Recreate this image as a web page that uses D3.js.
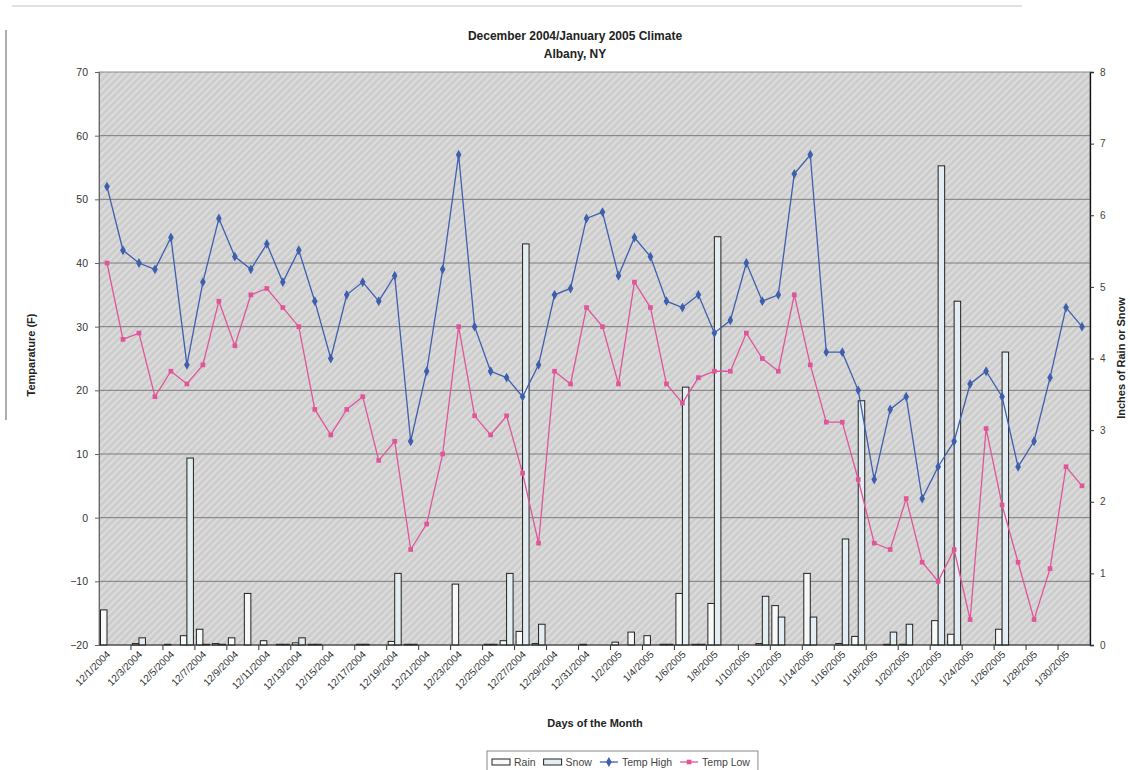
<!DOCTYPE html>
<html>
<head>
<meta charset="utf-8">
<script src="https://cdn.jsdelivr.net/npm/d3@7/dist/d3.min.js"></script>
<style>
  html, body { margin: 0; padding: 0; background: #fff; }
  svg { display: block; font-family: "Liberation Sans", Arial, sans-serif; }
</style>
</head>
<body>
<svg id="chart" width="1130" height="770"></svg>
<script>
// Daily climate record, Albany NY, 12/1/2004 – 1/31/2005
const days = [
  "12/1/2004","12/2/2004","12/3/2004","12/4/2004","12/5/2004","12/6/2004","12/7/2004","12/8/2004",
  "12/9/2004","12/10/2004","12/11/2004","12/12/2004","12/13/2004","12/14/2004","12/15/2004","12/16/2004",
  "12/17/2004","12/18/2004","12/19/2004","12/20/2004","12/21/2004","12/22/2004","12/23/2004","12/24/2004",
  "12/25/2004","12/26/2004","12/27/2004","12/28/2004","12/29/2004","12/30/2004","12/31/2004",
  "1/1/2005","1/2/2005","1/3/2005","1/4/2005","1/5/2005","1/6/2005","1/7/2005","1/8/2005",
  "1/9/2005","1/10/2005","1/11/2005","1/12/2005","1/13/2005","1/14/2005","1/15/2005","1/16/2005",
  "1/17/2005","1/18/2005","1/19/2005","1/20/2005","1/21/2005","1/22/2005","1/23/2005","1/24/2005",
  "1/25/2005","1/26/2005","1/27/2005","1/28/2005","1/29/2005","1/30/2005","1/31/2005"
];

// Temperatures, degrees F
const tempHigh = [
  52,42,40,39,44,24,37,47,41,39,43,37,42,34,25,35,37,34,38,12,23,39,57,30,23,22,19,24,35,36,47,
  48,38,44,41,34,33,35,29,31,40,34,35,54,57,26,26,20,6,17,19,3,8,12,21,23,19,8,12,22,33,30
];
const tempLow = [
  40,28,29,19,23,21,24,34,27,35,36,33,30,17,13,17,19,9,12,-5,-1,10,30,16,13,16,7,-4,23,21,33,
  30,21,37,33,21,18,22,23,23,29,25,23,35,24,15,15,6,-4,-5,3,-7,-10,-5,-16,14,2,-7,-16,-8,8,5
];

// Precipitation, inches
const rain = [
  0.49,0,0.02,0,0.01,0.13,0.22,0.02,0.10,0.72,0.06,0.01,0.03,0.01,0,0,0.01,0,0.05,0.01,0,0,0.85,0,0.01,0.06,0.19,0.02,0,0,0.01,
  0,0.04,0.18,0.13,0.01,0.72,0.01,0.58,0,0,0.02,0.55,0,1.0,0,0.02,0.12,0,0.01,0.01,0,0.34,0.15,0,0,0.22,0,0,0,0,0
];
const snow = [
  0,0,0.10,0,0,2.61,0.01,0.01,0,0,0,0.01,0.10,0.01,0,0,0.01,0,1.0,0.01,0,0,0,0,0.01,1.0,5.6,0.29,0,0,0,
  0,0,0,0,0.01,3.6,0.01,5.7,0,0,0.68,0.39,0,0.39,0,1.48,3.41,0,0.18,0.29,0,6.69,4.8,0,0,4.09,0,0,0,0,0
];

// Axis ticks
const tempTicks = [-20,-10,0,10,20,30,40,50,60,70];
const precipTicks = [0,1,2,3,4,5,6,7,8];

const svg = d3.select("#chart");
const plotL = 99, plotR = 1090, plotT = 72, plotB = 645;

const x = d3.scaleBand().domain(days).range([plotL, plotR]).padding(0);
const yT = d3.scaleLinear().domain([-20, 70]).range([plotB, plotT]);
const yP = d3.scaleLinear().domain([0, 8]).range([plotB, plotT]);
const sub = d3.scaleBand().domain(["Rain", "Snow"]).range([0, x.bandwidth()])
  .paddingInner(0).paddingOuter(0.23);

// Hatched grey plot background
const defs = svg.append("defs");
const pat = defs.append("pattern").attr("id", "hatch").attr("patternUnits", "userSpaceOnUse")
  .attr("width", 5).attr("height", 5).attr("patternTransform", "rotate(45)");
pat.append("rect").attr("width", 5).attr("height", 5).attr("fill", "#cdcdcd");
pat.append("rect").attr("width", 2).attr("height", 5).attr("fill", "#dcdcdc");

// faint outer frame of the chart area
svg.append("line").attr("x1", 12).attr("x2", 1022).attr("y1", 6).attr("y2", 6)
  .attr("stroke", "#c4c4c4").attr("stroke-width", 1.2);
svg.append("line").attr("x1", 6).attr("x2", 6).attr("y1", 30).attr("y2", 420)
  .attr("stroke", "#777").attr("stroke-width", 1.2);

svg.append("rect").attr("x", plotL).attr("y", plotT).attr("width", plotR - plotL).attr("height", plotB - plotT)
  .attr("fill", "url(#hatch)").attr("stroke", "#8a8a8a").attr("stroke-width", 1);

// horizontal gridlines on the temperature scale
svg.append("g").selectAll("line").data(tempTicks.slice(1, -1)).join("line")
  .attr("x1", plotL).attr("x2", plotR)
  .attr("y1", d => yT(d)).attr("y2", d => yT(d))
  .attr("stroke", "#7c7c7c").attr("stroke-width", 1);

// precipitation bars
const colors = { Rain: "#f7f9f9", Snow: "#e4eef2" };
const bars = svg.append("g");
days.forEach((d, i) => {
  [["Rain", rain[i]], ["Snow", snow[i]]].forEach(([k, v]) => {
    if (v <= 0) return;
    bars.append("rect")
      .attr("x", x(d) + sub(k))
      .attr("y", yP(v))
      .attr("width", sub.bandwidth())
      .attr("height", yP(0) - yP(v))
      .attr("fill", colors[k])
      .attr("stroke", "#222").attr("stroke-width", 1);
  });
});

// temperature lines
const cx = d => x(d) + x.bandwidth() / 2;
function series(values, color, shape) {
  const pts = days.map((d, i) => [cx(d), yT(values[i])]);
  svg.append("path").attr("d", d3.line()(pts)).attr("fill", "none")
    .attr("stroke", color).attr("stroke-width", 1.3);
  svg.append("g").selectAll("path").data(pts).join("path")
    .attr("transform", p => `translate(${p[0]},${p[1]})`)
    .attr("d", d3.symbol().type(shape).size(shape === d3.symbolDiamond ? 28 : 22)())
    .attr("fill", color);
}
series(tempHigh, "#3e5fae", d3.symbolDiamond);
series(tempLow, "#e0559a", d3.symbolSquare);

// left axis
const axL = svg.append("g").attr("transform", `translate(${plotL},0)`)
  .call(d3.axisLeft(yT).tickValues(tempTicks).tickSize(4).tickPadding(7));
axL.select(".domain").attr("stroke", "#666");
axL.selectAll(".tick line").attr("stroke", "#666");
axL.selectAll("text").attr("font-size", 10.5).attr("fill", "#333");

// right axis
const axR = svg.append("g").attr("transform", `translate(${plotR},0)`)
  .call(d3.axisRight(yP).tickValues(precipTicks).tickSize(4).tickPadding(6));
axR.select(".domain").attr("stroke", "#111").attr("stroke-width", 1.3);
axR.selectAll(".tick line").attr("stroke", "#333");
axR.selectAll("text").attr("font-size", 10).attr("fill", "#444");

// bottom axis: ticks every second day boundary, labels every second day
const axB = svg.append("g");
axB.append("line").attr("x1", plotL).attr("x2", plotR).attr("y1", plotB).attr("y2", plotB)
  .attr("stroke", "#333");
const tickDays = days.filter((d, i) => i % 2 === 0);
axB.selectAll("line.tk").data(tickDays.slice(1)).join("line").attr("class", "tk")
  .attr("x1", d => x(d)).attr("x2", d => x(d))
  .attr("y1", plotB).attr("y2", plotB + 5).attr("stroke", "#333");
axB.selectAll("text").data(tickDays).join("text")
  .attr("transform", d => `translate(${cx(d) + 4},${plotB + 10}) rotate(-45)`)
  .attr("text-anchor", "end").attr("font-size", 10).attr("fill", "#333")
  .text(d => d);

// titles
svg.append("text").attr("x", 575).attr("y", 40).attr("text-anchor", "middle")
  .attr("font-size", 12).attr("font-weight", "bold").attr("fill", "#222")
  .text("December 2004/January 2005 Climate");
svg.append("text").attr("x", 575).attr("y", 58).attr("text-anchor", "middle")
  .attr("font-size", 12).attr("font-weight", "bold").attr("fill", "#222")
  .text("Albany, NY");
svg.append("text").attr("transform", "translate(35,355) rotate(-90)").attr("text-anchor", "middle")
  .attr("font-size", 11).attr("font-weight", "bold").attr("fill", "#222")
  .text("Temparature (F)");
svg.append("text").attr("transform", "translate(1125,358) rotate(-90)").attr("text-anchor", "middle")
  .attr("font-size", 11).attr("font-weight", "bold").attr("fill", "#222")
  .text("Inches of Rain or Snow");
svg.append("text").attr("x", 595).attr("y", 727).attr("text-anchor", "middle")
  .attr("font-size", 11).attr("font-weight", "bold").attr("fill", "#222")
  .text("Days of the Month");

// legend
const lg = svg.append("g");
const lgBox = lg.append("rect").attr("x", 487).attr("y", 751).attr("height", 22)
  .attr("fill", "#fff").attr("stroke", "#888");
let lx = 492;
const ly = 762;
function legendItem(label, draw) {
  draw(lx);
  lx += 22;
  const t = lg.append("text").attr("x", lx).attr("y", ly + 4).attr("font-size", 10.5)
    .attr("fill", "#444").text(label);
  lx += t.node().getComputedTextLength() + 8;
}
legendItem("Rain", x0 => lg.append("rect").attr("x", x0).attr("y", ly - 3).attr("width", 18).attr("height", 6)
  .attr("fill", colors.Rain).attr("stroke", "#222"));
legendItem("Snow", x0 => lg.append("rect").attr("x", x0).attr("y", ly - 3).attr("width", 18).attr("height", 6)
  .attr("fill", colors.Snow).attr("stroke", "#222"));
legendItem("Temp High", x0 => {
  lg.append("line").attr("x1", x0).attr("x2", x0 + 18).attr("y1", ly).attr("y2", ly)
    .attr("stroke", "#3e5fae").attr("stroke-width", 1.3);
  lg.append("path").attr("transform", `translate(${x0 + 9},${ly})`)
    .attr("d", d3.symbol().type(d3.symbolDiamond).size(28)()).attr("fill", "#3e5fae");
});
legendItem("Temp Low", x0 => {
  lg.append("line").attr("x1", x0).attr("x2", x0 + 18).attr("y1", ly).attr("y2", ly)
    .attr("stroke", "#e0559a").attr("stroke-width", 1.3);
  lg.append("path").attr("transform", `translate(${x0 + 9},${ly})`)
    .attr("d", d3.symbol().type(d3.symbolSquare).size(22)()).attr("fill", "#e0559a");
});
lgBox.attr("width", lx - 487);
</script>
</body>
</html>
